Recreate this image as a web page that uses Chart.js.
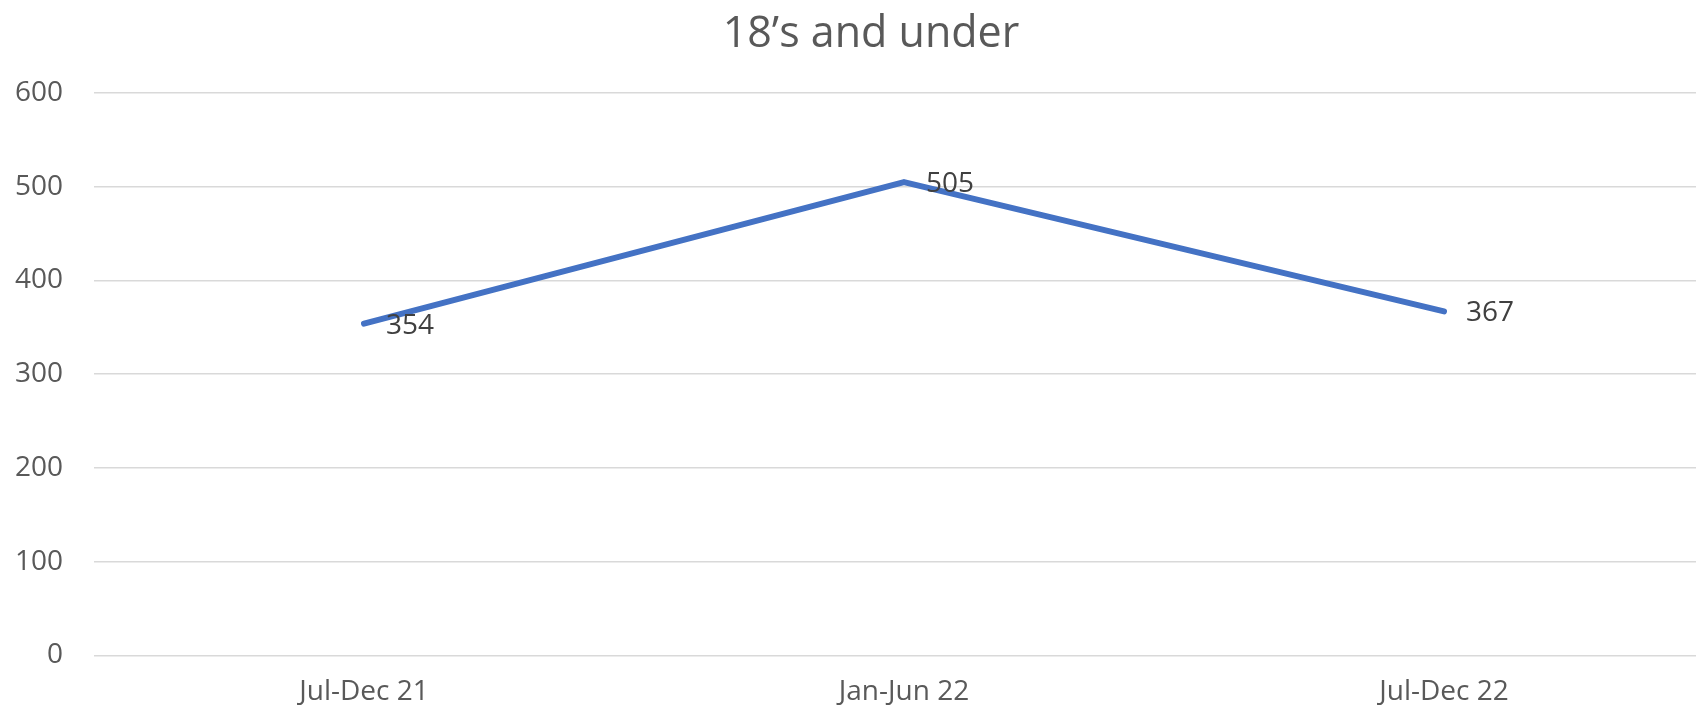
<!DOCTYPE html>
<html>
<head>
<meta charset="utf-8">
<script src="https://cdn.jsdelivr.net/npm/chart.js@4.4.1/dist/chart.umd.min.js"></script>
<style>
  html, body { margin: 0; padding: 0; background: #fff; overflow: hidden; }
  #wrap { width: 1742px; height: 713px; }
</style>
</head>
<body>
<div id="wrap"><canvas id="chart"></canvas></div>
<script>
// Chart data
const categories = ['Jul-Dec 21', 'Jan-Jun 22', 'Jul-Dec 22'];
const values = [354, 505, 367];
const yTicks = [0, 100, 200, 300, 400, 500, 600];
const chartTitle = '18\u2019s and under';

const FONT = "'Open Sans', sans-serif";

// Draws value labels right of each point
const pointLabels = {
    id: 'pointLabels',
    afterDatasetsDraw(chart) {
        const ctx = chart.ctx;
        const meta = chart.getDatasetMeta(0);
        ctx.save();
        ctx.font = '28px ' + FONT;
        ctx.fillStyle = '#404040';
        ctx.textAlign = 'left';
        ctx.textBaseline = 'middle';
        meta.data.forEach((pt, i) => {
            ctx.fillText(String(values[i]), pt.x + 22, pt.y + 2);
        });
        ctx.restore();
    }
};

// Nudge the title so it is centred like the original
const titleShift = {
    id: 'titleShift',
    afterLayout(chart) {
        if (chart.titleBlock) chart.titleBlock.left += 28;
    }
};

new Chart(document.getElementById('chart'), {
    type: 'line',
    data: {
        labels: categories,
        datasets: [{
            data: values,
            borderColor: '#4472C4',
            borderWidth: 6,
            borderCapStyle: 'round',
            borderJoinStyle: 'round',
            pointRadius: 0,
            tension: 0,
            fill: false
        }]
    },
    options: {
        responsive: true,
        maintainAspectRatio: false,
        animation: false,
        layout: { padding: { left: 0, right: 28, top: 0, bottom: 0 } },
        plugins: {
            legend: { display: false },
            tooltip: { enabled: false },
            title: {
                display: true,
                text: chartTitle,
                color: '#595959',
                font: { family: FONT, size: 43, weight: 'normal', lineHeight: 1.2 },
                padding: { top: 9, bottom: 32.4 }
            }
        },
        scales: {
            x: {
                offset: true,
                grid: { display: false, drawTicks: false },
                border: { display: false },
                ticks: {
                    color: '#595959',
                    font: { family: FONT, size: 28 },
                    padding: 20,
                    maxRotation: 0
                },
                afterFit(scale) { scale.height = 57.5; }
            },
            y: {
                min: yTicks[0],
                max: yTicks[yTicks.length - 1],
                afterBuildTicks(scale) { scale.ticks = yTicks.map(v => ({ value: v })); },
                grid: { color: '#d9d9d9', lineWidth: 1.6, drawTicks: false },
                border: { display: false },
                ticks: {
                    color: '#595959',
                    font: { family: FONT, size: 28 },
                    padding: 31
                },
                afterFit(scale) { scale.width = 94; }
            }
        }
    },
    plugins: [pointLabels, titleShift]
});
</script>
</body>
</html>
